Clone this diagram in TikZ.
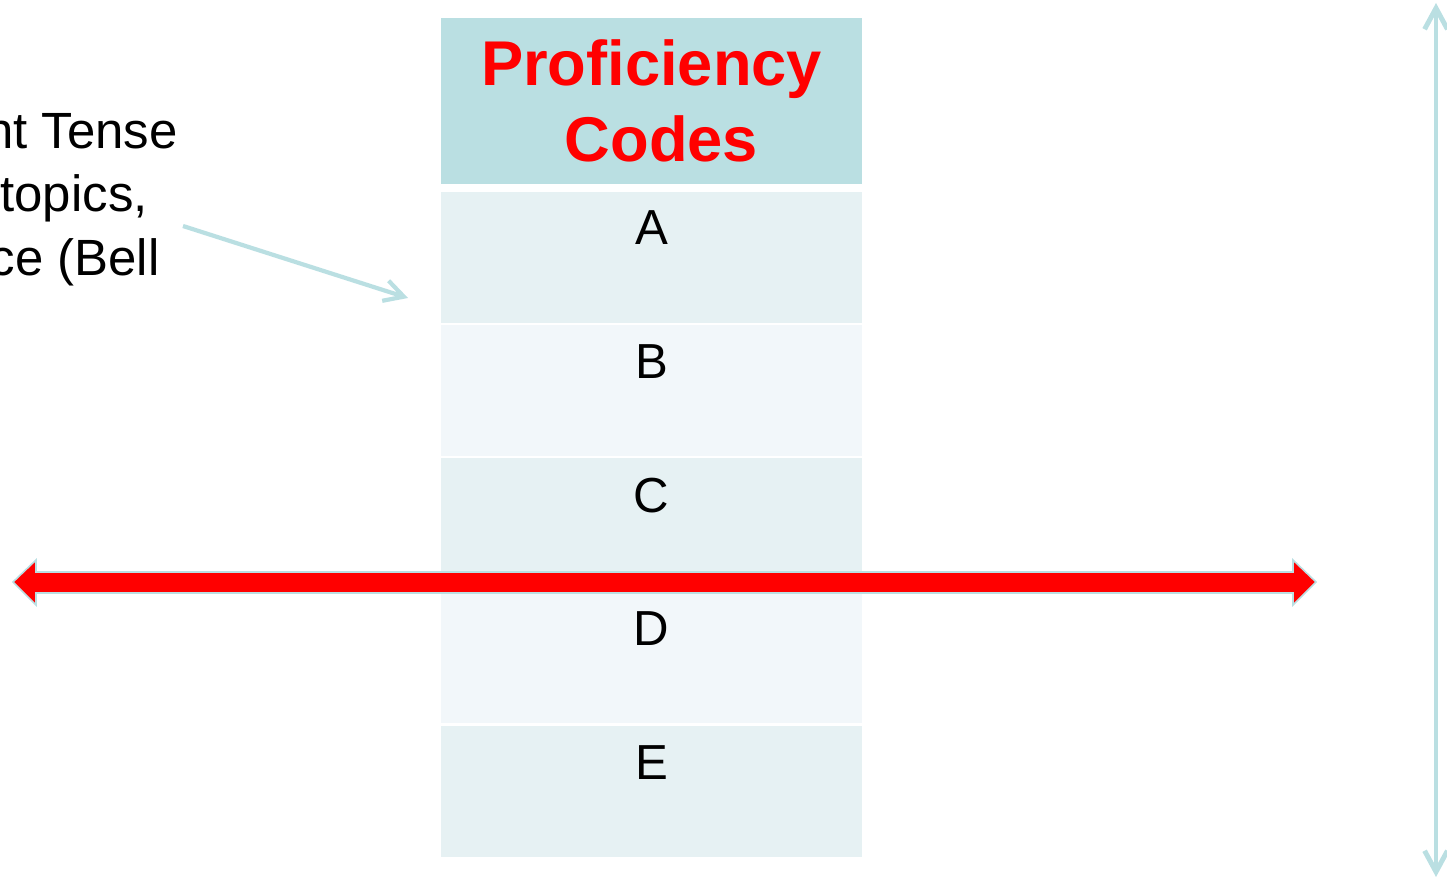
\documentclass[tikz,border=0pt]{standalone}
\usepackage{fontspec}
\setmainfont{Liberation Sans}
\usetikzlibrary{arrows.meta}
\usetikzlibrary{calc}
\definecolor{paleblue}{HTML}{BADFE2}
\definecolor{rowdark}{HTML}{E6F1F3}
\definecolor{rowlight}{HTML}{F2F7FA}

\begin{document}
\begin{tikzpicture}[x=0.02cm,y=-0.02cm,
  head/.style={rectangle,fill=paleblue,minimum width=8.42cm,minimum height=3.32cm,inner sep=0,
    align=center,text=red,font=\fontsize{36}{43.5}\selectfont\bfseries},
  cell/.style={rectangle,minimum width=8.42cm,minimum height=2.62cm,inner sep=0},
  code/.style={anchor=north,inner sep=0,font=\fontsize{28}{33}\selectfont},
  note/.style={anchor=base east,inner sep=0,font=\fontsize{29}{35}\selectfont},
  pointer/.style={draw=paleblue,line width=2.4pt,-{Straight Barb[length=11pt,width=12pt]}},
  span/.style={draw=paleblue,line width=2.8pt,{Straight Barb[length=12pt,width=13pt]}-{Straight Barb[length=12pt,width=13pt]}},
  bar/.style={fill=red,draw=paleblue,line width=0.9pt,line join=miter}]

  \useasboundingbox (0,0) rectangle (1447,879);

  \node[head] (codes) at (651.5,101) {Proficiency\\\hspace*{0.4cm}Codes};
  \node[cell,fill=rowdark]  (a) at (651.5,257.5) {};
  \node[cell,fill=rowlight] (b) at (651.5,390.7) {};
  \node[cell,fill=rowdark]  (c) at (651.5,523.9) {};
  \node[cell,fill=rowlight] (d) at (651.5,657.1) {};
  \node[cell,fill=rowdark]  (e) at (651.5,791.3) {};

  \node[code] (la) at ($(a.north)+(0,19)$) {A};
  \node[code] (lb) at ($(b.north)+(0,19)$) {B};
  \node[code] (lc) at ($(c.north)+(0,20)$) {C};
  \node[code] (ld) at ($(d.north)+(0,20)$) {D};
  \node[code] (le) at ($(e.north)+(0,20)$) {E};

  \node[note] (tense)  at (178,148)   {nt Tense};
  \node[note] (topics) at (148,211.5) {topics,};
  \node[note] (bell)   at (160,275)   {ce (Bell};

  \coordinate (tail) at (183,226);
  \coordinate (tip)  at (408,298);
  \draw[pointer] (tail) -- (tip);

  \draw[bar] (13,582) -- (36,560) -- (36,572) -- (1293,572) -- (1293,560) -- (1316,582)
    -- (1293,605) -- (1293,593) -- (36,593) -- (36,605) -- cycle;

  \coordinate (upper) at (1436,3);
  \coordinate (lower) at (1436,877);
  \draw[span] (upper) -- (lower);
\end{tikzpicture}
\end{document}
